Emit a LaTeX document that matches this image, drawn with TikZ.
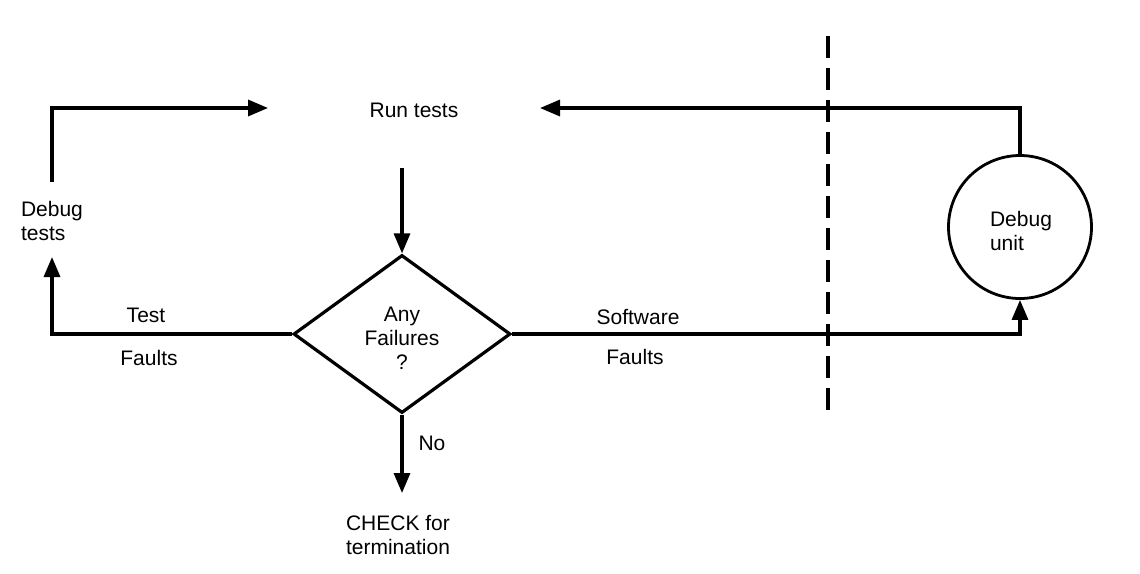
\documentclass[tikz,border=0pt]{standalone}
\usepackage{fontspec}
\setmainfont{Liberation Sans}
\usetikzlibrary{arrows.meta,shapes.geometric}
\begin{document}
\begin{tikzpicture}[x=1pt,y=-1pt,
  every node/.style={font=\fontsize{21}{24}\selectfont, inner sep=0pt},
  conn/.style={line width=3.2pt},
  arr/.style={conn, -{Triangle[length=20pt,width=16pt]}},
  dec/.style={draw, diamond, line width=3.2pt, minimum width=217pt, minimum height=158pt, align=center},
  circ/.style={draw, circle, line width=2.8pt, minimum size=143pt, align=left}]
\useasboundingbox (0,0) rectangle (1140,573);
% nodes
\node (run) at (414,110) {Run tests};
\node[align=left] (dbt) at (52,221) {Debug\\tests};
\node[dec] (dia) at (402,334) {};
\node[align=center] (diatext) at (402,338) {Any\\Failures\\?};
\node[circ] (du) at (1020,227) {};
\node[align=left] (dutext) at (1021,231) {Debug\\unit};
\node[align=center] (chk) at (398,535) {CHECK for\\termination};
\node (tst) at (146,315) {Test};
\node (tf) at (149,358) {Faults};
\node (sw) at (638,317) {Software};
\node (sf) at (635,357) {Faults};
\node (no) at (432,443) {No};
% connector ends
\coordinate (dbtTop) at (52,182);
\coordinate (dbtBot) at (52,257);
\coordinate (runL) at (268,108);
\coordinate (runR) at (540,108);
\coordinate (runB) at (402,168);
\coordinate (chkTop) at (402,493);
% connectors
\draw[arr] (dbtTop) |- (runL);
\draw[arr] (runB) -- (dia.north);
\draw[arr] (dia.west) -| (dbtBot);
\draw[arr] (dia.east) -| (du.south);
\draw[arr] (du.north) |- (runR);
\draw[arr] (dia.south) -- (chkTop);
% boundary
\coordinate (bTop) at (828,36);
\coordinate (bBot) at (828,415);
\draw[line width=3.2pt, dash pattern=on 22pt off 10pt] (bTop) -- (bBot);
\end{tikzpicture}
\end{document}
